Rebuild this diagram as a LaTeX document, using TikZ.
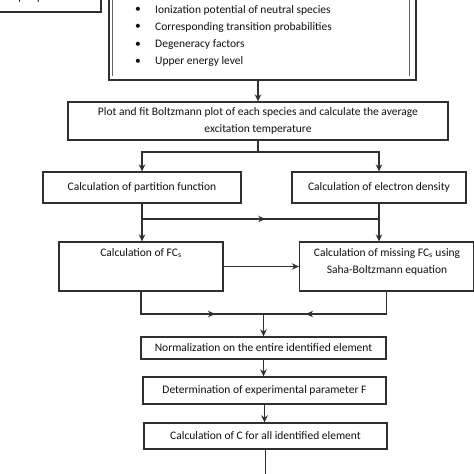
\documentclass[tikz,border=0pt]{standalone}
\usepackage{fontspec}
\setmainfont{Carlito}
\usetikzlibrary{arrows.meta,calc}
\definecolor{linec}{HTML}{303030}
\definecolor{txt}{HTML}{111111}
\begin{document}
\begin{tikzpicture}[x=1pt,y=-1pt,
  box/.style={draw=linec, line width=1.3pt, inner sep=0pt, text=txt, align=center,
    font=\fontsize{11.5}{17}\selectfont},
  lbl/.style={inner sep=0pt, text=txt, align=center, font=\fontsize{11.5}{17}\selectfont},
  arr/.style={draw=linec, line width=1.3pt, -{Stealth[length=7pt,width=6.5pt]}},
  ln/.style={draw=linec, line width=1.3pt}]
\useasboundingbox (0,0) rectangle (474,474);
\fill[white] (0,0) rectangle (474,474);
% input parameters box (cut at top)
\node[box, minimum width=104pt, minimum height=32pt] (inp) at (49,-4) {};
\node[lbl] (inptxt) at (50,-2) {Input parameters};
% top double box
\node[box, minimum width=307pt, minimum height=110pt] (top) at (262.5,25) {};
\draw[linec!75, line width=1pt] (112,-30) -- (112,76);
\draw[linec!75, line width=1pt] (409,-30) -- (409,76);
\foreach \i/\t in {0/Ionization potential of neutral species,1/Corresponding transition probabilities,2/Degeneracy factors,3/Upper energy level}{
  \node[lbl] (b\i) at (138,10+17.3*\i) {\textbullet};
  \node[lbl, anchor=west] (t\i) at (155,10+17.3*\i) {\t};
}
% boxes
\node[box, minimum width=380pt, minimum height=38pt] (plot) at (258,121)
  {Plot and fit Boltzmann plot of each species and calculate the average\\excitation temperature};
\node[box, minimum width=198pt, minimum height=31pt] (part) at (142,187.5) {Calculation of partition function};
\node[box, minimum width=174pt, minimum height=31pt] (elec) at (379,187.5) {Calculation of electron density};
\node[box, minimum width=164pt, minimum height=49pt] (fc) at (141,266.5) {};
\node[lbl] (fctxt) at (141,253) {Calculation of FC\textsubscript{s}};
\node[box, minimum width=174pt, minimum height=49pt] (miss) at (386.5,266.5) {};
\node[lbl] (misstxt) at (387,261.5) {Calculation of missing FC\textsubscript{s} using\\Saha-Boltzmann equation};
\node[box, minimum width=245pt, minimum height=22pt] (norm) at (263.5,348) {Normalization on the entire identified element};
\node[box, minimum width=243pt, minimum height=27pt] (det) at (264.5,390.5) {Determination of experimental parameter F};
\node[box, minimum width=243pt, minimum height=26pt] (calc) at (265.5,436) {Calculation of C for all identified element};
% connectors
\draw[arr] (plot.north |- top.south) -- (plot.north);
\coordinate (j1) at (258,152);
\draw[ln] (plot.south) -- (j1);
\draw[arr] (j1) -| (part.north);
\draw[arr] (j1) -| (elec.north);
\coordinate (j2) at (142,219);
\coordinate (j3) at (379,219);
\draw[arr] (part.south) -- (part.south |- fc.north);
\draw[ln] (j2) -- (j3);
\draw[arr] (j2) -- ($(j2)!0.52!(j3)$);
\draw[arr] (elec.south) -- (elec.south |- miss.north);
\draw[arr] (fc.east) -- (fc.east -| miss.west);
\coordinate (j4) at (141,314);
\coordinate (j5) at (386.5,314);
\coordinate (j6) at (263.5,314);
\draw[ln] (fc.south) -- (j4) -- (j5) -- (miss.south);
\draw[arr] (j4) -- (215,314);
\draw[arr] (j5) -- (306,314);
\draw[arr] (j6) -- (norm.north);
\draw[arr] (norm.south) -- (norm.south |- det.north);
\draw[arr] (det.south) -- (det.south |- calc.north);
\coordinate (endc) at (calc.south |- 0,480);
\draw[ln] (calc.south) -- (endc);
\end{tikzpicture}
\end{document}
